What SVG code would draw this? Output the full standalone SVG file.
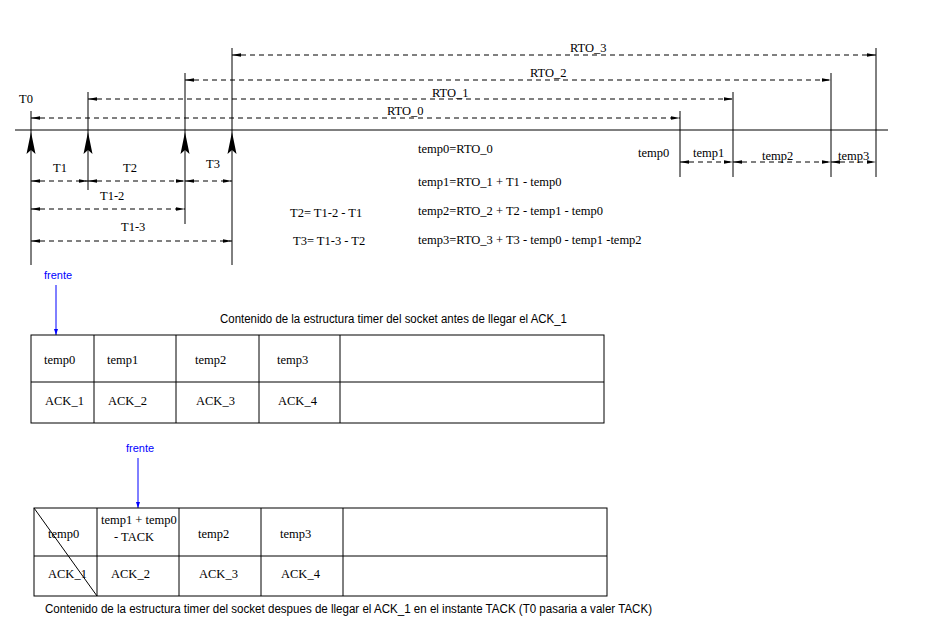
<svg xmlns="http://www.w3.org/2000/svg" width="952" height="631" viewBox="0 0 952 631">
<style>
.ln{stroke:#000;stroke-width:1;fill:none}
.da{stroke:#000;stroke-width:1;fill:none;stroke-dasharray:5 4;marker-start:url(#sa);marker-end:url(#sa)}
.t{font-family:"Liberation Serif","Times New Roman",serif;font-size:12.5px;fill:#000}
.s{font-family:"Liberation Sans",Arial,sans-serif;font-size:12px;fill:#000}
.b{font-family:"Liberation Sans",Arial,sans-serif;font-size:11px;fill:#00f}
.blue{stroke:#00f;stroke-width:1;fill:none;marker-end:url(#ba)}
.cell{stroke:#000;stroke-width:1;fill:#fff}
</style>
<defs>
<marker id="sa" viewBox="0 0 9 4" refX="9" refY="2" markerWidth="9" markerHeight="4" markerUnits="userSpaceOnUse" orient="auto-start-reverse">
<path d="M0,0.3 L9,2 L0,3.7 Z" fill="#000"/>
</marker>
<marker id="ba" viewBox="0 0 6 4" refX="6" refY="2" markerWidth="6" markerHeight="4" markerUnits="userSpaceOnUse" orient="auto">
<path d="M0,0 L6,2 L0,4 Z" fill="#00f"/>
</marker>
<path id="big" d="M0,0 L4.5,22 L0,18 L-4.5,22 Z" fill="#000"/>
</defs>
<rect width="952" height="631" fill="#fff"/>

<g id="timeline">
<line class="ln" x1="15" y1="130" x2="888" y2="130"/>
<line class="ln" x1="31" y1="111" x2="31" y2="265"/>
<line class="ln" x1="88" y1="92" x2="88" y2="190"/>
<line class="ln" x1="185" y1="73" x2="185" y2="224"/>
<line class="ln" x1="232" y1="48" x2="232" y2="265"/>
<line class="ln" x1="680" y1="111" x2="680" y2="177"/>
<line class="ln" x1="733" y1="92" x2="733" y2="177"/>
<line class="ln" x1="831" y1="73" x2="831" y2="177"/>
<line class="ln" x1="876" y1="48" x2="876" y2="177"/>
<use href="#big" x="31" y="132"/>
<use href="#big" x="88" y="132"/>
<use href="#big" x="185" y="132"/>
<use href="#big" x="232" y="132"/>
<text class="t" x="19" y="103">T0</text>
</g>

<g id="connectors">
<line class="da" x1="31" y1="118" x2="680" y2="118"/>
<line class="da" x1="88" y1="99" x2="733" y2="99"/>
<line class="da" x1="185" y1="80" x2="831" y2="80"/>
<line class="da" x1="232" y1="55" x2="876" y2="55"/>
<line class="da" x1="31" y1="181" x2="88" y2="181"/>
<line class="da" x1="88" y1="181" x2="185" y2="181"/>
<line class="da" x1="185" y1="181" x2="232" y2="181"/>
<line class="da" x1="31" y1="209" x2="185" y2="209"/>
<line class="da" x1="31" y1="241" x2="232" y2="241"/>
<line class="da" x1="680" y1="162" x2="733" y2="162"/>
<line class="da" x1="733" y1="162" x2="831" y2="162"/>
<line class="da" x1="831" y1="162" x2="876" y2="162"/>
<line class="blue" x1="56" y1="285" x2="56" y2="335"/>
<line class="blue" x1="138" y1="458" x2="138" y2="508"/>
</g>

<g id="labels">
<text class="t" x="570" y="52">RTO_3</text>
<text class="t" x="530" y="77">RTO_2</text>
<text class="t" x="432" y="97">RTO_1</text>
<text class="t" x="387" y="115">RTO_0</text>
<text class="t" x="53" y="172">T1</text>
<text class="t" x="123" y="172">T2</text>
<text class="t" x="206" y="168">T3</text>
<text class="t" x="100" y="200">T1-2</text>
<text class="t" x="121" y="231">T1-3</text>
<text class="t" x="638" y="157">temp0</text>
<text class="t" x="693" y="157">temp1</text>
<text class="t" x="762" y="160">temp2</text>
<text class="t" x="838" y="160">temp3</text>
</g>

<g id="equations">
<text class="t" x="418" y="153">temp0=RTO_0</text>
<text class="t" x="418" y="186">temp1=RTO_1 + T1 - temp0</text>
<text class="t" x="418" y="215">temp2=RTO_2 + T2 - temp1 - temp0</text>
<text class="t" x="418" y="244">temp3=RTO_3 + T3 - temp0 - temp1 -temp2</text>
<text class="t" x="290" y="217">T2= T1-2 - T1</text>
<text class="t" x="293" y="245">T3= T1-3 - T2</text>
</g>

<g id="table1">
<text class="b" x="44" y="279">frente</text>
<text class="s" x="220" y="323" textLength="347" lengthAdjust="spacingAndGlyphs">Contenido de la estructura timer del socket antes de llegar el ACK_1</text>
<rect class="cell" x="31" y="335" width="573" height="88"/>
<line class="ln" x1="31" y1="382" x2="604" y2="382"/>
<line class="ln" x1="94" y1="335" x2="94" y2="423"/>
<line class="ln" x1="176" y1="335" x2="176" y2="423"/>
<line class="ln" x1="259" y1="335" x2="259" y2="423"/>
<line class="ln" x1="340" y1="335" x2="340" y2="423"/>
<text class="t" x="44" y="364">temp0</text>
<text class="t" x="107" y="364">temp1</text>
<text class="t" x="195" y="364">temp2</text>
<text class="t" x="277" y="364">temp3</text>
<text class="t" x="45" y="405">ACK_1</text>
<text class="t" x="108" y="405">ACK_2</text>
<text class="t" x="196" y="405">ACK_3</text>
<text class="t" x="278" y="405">ACK_4</text>
</g>

<g id="table2">
<text class="b" x="126" y="452">frente</text>
<rect class="cell" x="34" y="508" width="573" height="88"/>
<line class="ln" x1="34" y1="556" x2="607" y2="556"/>
<line class="ln" x1="97" y1="508" x2="97" y2="596"/>
<line class="ln" x1="179" y1="508" x2="179" y2="596"/>
<line class="ln" x1="261" y1="508" x2="261" y2="596"/>
<line class="ln" x1="343" y1="508" x2="343" y2="596"/>
<line class="ln" x1="34" y1="508" x2="97" y2="596"/>
<text class="t" x="48" y="538">temp0</text>
<text class="t" x="101" y="524">temp1 + temp0</text>
<text class="t" x="114" y="541">- TACK</text>
<text class="t" x="198" y="538">temp2</text>
<text class="t" x="280" y="538">temp3</text>
<text class="t" x="48" y="578">ACK_1</text>
<text class="t" x="111" y="578">ACK_2</text>
<text class="t" x="199" y="578">ACK_3</text>
<text class="t" x="281" y="578">ACK_4</text>
<text class="s" x="45" y="613" textLength="607" lengthAdjust="spacingAndGlyphs">Contenido de la estructura timer del socket despues de llegar el ACK_1 en el instante TACK (T0 pasaria a valer TACK)</text>
</g>
</svg>
